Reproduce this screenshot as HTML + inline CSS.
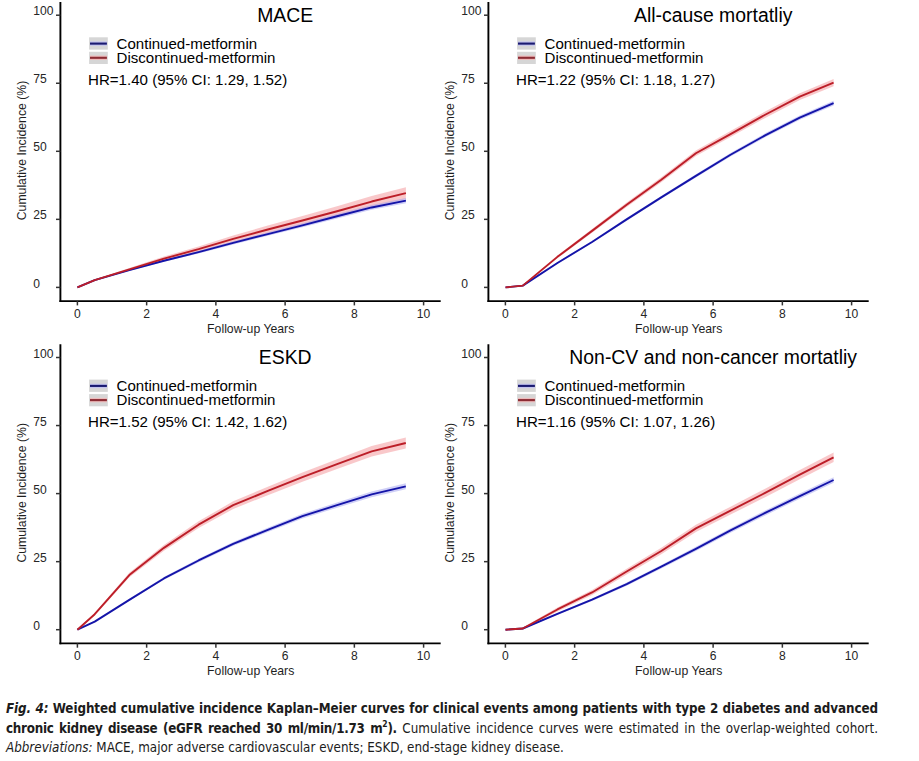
<!DOCTYPE html>
<html><head><meta charset="utf-8"><title>Fig. 4</title>
<style>
html,body{margin:0;padding:0;background:#fff;}
body{width:919px;height:761px;overflow:hidden;position:relative;}
svg{position:absolute;left:0;top:0;}
.cap{position:absolute;left:6px;width:872px;font-family:"DejaVu Sans Condensed","DejaVu Sans","Liberation Sans",sans-serif;font-stretch:condensed;font-size:13.3px;line-height:16px;color:#1c1c1c;text-align:justify;text-align-last:justify;white-space:normal;}
.cap sup{font-size:8.5px;line-height:0;vertical-align:0;position:relative;top:-6px;}
</style></head><body>
<svg width="919" height="761" viewBox="0 0 919 761" font-family="Liberation Sans, Arial, sans-serif">
<g>
<path d="M77.4,287.4 L94.71,279.49 L129.33,268.07 L163.95,256.56 L198.57,246.5 L233.19,235.62 L267.81,225.6 L302.43,216.1 L337.05,206.26 L371.67,196.05 L405.9,187.2 L405.9,199.2 L371.67,207.04 L337.05,216.2 L302.43,224.97 L267.81,233.35 L233.19,242.22 L198.57,251.91 L163.95,260.69 L129.33,270.82 L94.71,280.62 L77.4,287.4Z" fill="#f7b0b4" fill-opacity="0.7"/>
<path d="M77.4,287.4 L94.71,279.74 L129.33,269.34 L163.95,259.7 L198.57,250.87 L233.19,241.35 L267.81,232.29 L302.43,223.37 L337.05,214.01 L371.67,205.04 L405.9,198 L405.9,203.2 L371.67,209.85 L337.05,218.42 L302.43,227.36 L267.81,235.84 L233.19,244.43 L198.57,253.46 L163.95,261.75 L129.33,270.77 L94.71,280.4 L77.4,287.4Z" fill="#a0a0f0" fill-opacity="0.5"/>
<path d="M77.4,287.4 L94.71,280.07 L129.33,270.05 L163.95,260.72 L198.57,252.17 L233.19,242.89 L267.81,234.07 L302.43,225.37 L337.05,216.22 L371.67,207.45 L405.9,200.6" fill="none" stroke="#1414a8" stroke-width="1.9" stroke-linejoin="round"/>
<path d="M77.4,287.4 L94.71,280.06 L129.33,269.45 L163.95,258.63 L198.57,249.2 L233.19,238.92 L267.81,229.47 L302.43,220.54 L337.05,211.23 L371.67,201.54 L405.9,193.2" fill="none" stroke="#bc1e28" stroke-width="1.9" stroke-linejoin="round"/>
<line x1="60.4" y1="2" x2="60.4" y2="302" stroke="#000" stroke-width="1.9"/>
<line x1="59.45" y1="301.1" x2="440.7" y2="301.1" stroke="#000" stroke-width="1.8"/>
<line x1="56" y1="287.4" x2="60.4" y2="287.4" stroke="#333" stroke-width="1.5"/>
<text x="33.2" y="287.5" font-size="12.1" fill="#262626">0</text>
<line x1="56" y1="219.35" x2="60.4" y2="219.35" stroke="#333" stroke-width="1.5"/>
<text x="33.2" y="219.45" font-size="12.1" fill="#262626">25</text>
<line x1="56" y1="151.3" x2="60.4" y2="151.3" stroke="#333" stroke-width="1.5"/>
<text x="33.2" y="151.4" font-size="12.1" fill="#262626">50</text>
<line x1="56" y1="83.25" x2="60.4" y2="83.25" stroke="#333" stroke-width="1.5"/>
<text x="33.2" y="83.35" font-size="12.1" fill="#262626">75</text>
<line x1="56" y1="15.2" x2="60.4" y2="15.2" stroke="#333" stroke-width="1.5"/>
<text x="33.2" y="15.3" font-size="12.1" fill="#262626">100</text>
<line x1="77.4" y1="301.1" x2="77.4" y2="305.4" stroke="#333" stroke-width="1.5"/>
<text x="77.4" y="317.5" font-size="12.1" fill="#262626" text-anchor="middle">0</text>
<line x1="146.64" y1="301.1" x2="146.64" y2="305.4" stroke="#333" stroke-width="1.5"/>
<text x="146.64" y="317.5" font-size="12.1" fill="#262626" text-anchor="middle">2</text>
<line x1="215.88" y1="301.1" x2="215.88" y2="305.4" stroke="#333" stroke-width="1.5"/>
<text x="215.88" y="317.5" font-size="12.1" fill="#262626" text-anchor="middle">4</text>
<line x1="285.12" y1="301.1" x2="285.12" y2="305.4" stroke="#333" stroke-width="1.5"/>
<text x="285.12" y="317.5" font-size="12.1" fill="#262626" text-anchor="middle">6</text>
<line x1="354.36" y1="301.1" x2="354.36" y2="305.4" stroke="#333" stroke-width="1.5"/>
<text x="354.36" y="317.5" font-size="12.1" fill="#262626" text-anchor="middle">8</text>
<line x1="423.6" y1="301.1" x2="423.6" y2="305.4" stroke="#333" stroke-width="1.5"/>
<text x="423.6" y="317.5" font-size="12.1" fill="#262626" text-anchor="middle">10</text>
<text x="250.7" y="332.6" font-size="12.25" fill="#1e1e1e" text-anchor="middle">Follow-up Years</text>
<text transform="translate(25.8,150.5) rotate(-90)" font-size="12.25" fill="#1e1e1e" text-anchor="middle">Cumulative Incidence (%)</text>
<text x="285.2" y="21.8" font-size="19.4" fill="#000" text-anchor="middle">MACE</text>
<rect x="89.1" y="37.3" width="18.7" height="12.3" fill="#d6d6d6"/>
<rect x="89.1" y="51.8" width="18.7" height="12.2" fill="#d6d6d6"/>
<line x1="90" y1="43.6" x2="106.9" y2="43.6" stroke="#c4c4ee" stroke-width="4.4"/>
<line x1="90" y1="57.8" x2="106.9" y2="57.8" stroke="#eebcbc" stroke-width="4.4"/>
<line x1="90" y1="43.6" x2="106.9" y2="43.6" stroke="#1a1a70" stroke-width="2.1"/>
<line x1="90" y1="57.8" x2="106.9" y2="57.8" stroke="#8c2c34" stroke-width="2.1"/>
<text x="116.6" y="48.6" font-size="15.05" fill="#000">Continued-metformin</text>
<text x="116.6" y="62.8" font-size="15.05" fill="#000">Discontinued-metformin</text>
<text x="88" y="84.6" font-size="15.1" fill="#000">HR=1.40 (95% CI: 1.29, 1.52)</text>
</g>
<g>
<path d="M505.5,287.4 L522.81,284.79 L557.43,255.43 L592.05,229.04 L626.67,202.56 L661.29,177.28 L695.91,150.48 L730.53,131.11 L765.15,111.58 L799.77,93.2 L833.6,79 L833.6,86.2 L799.77,100.02 L765.15,117.99 L730.53,137.07 L695.91,155.96 L661.29,182.24 L626.67,206.93 L592.05,232.73 L557.43,258.29 L522.81,286.45 L505.5,287.4Z" fill="#f7b0b4" fill-opacity="0.7"/>
<path d="M505.5,287.4 L522.81,285.23 L557.43,262.19 L592.05,240.99 L626.67,218.12 L661.29,195.93 L695.91,174.18 L730.53,152.94 L765.15,133.37 L799.77,115.49 L833.6,100.8 L833.6,105.4 L799.77,119.8 L765.15,137.37 L730.53,156.61 L695.91,177.5 L661.29,198.87 L626.67,220.65 L592.05,243.06 L557.43,263.71 L522.81,286.01 L505.5,287.4Z" fill="#a0a0f0" fill-opacity="0.5"/>
<path d="M505.5,287.4 L522.81,285.62 L557.43,262.95 L592.05,242.03 L626.67,219.38 L661.29,197.4 L695.91,175.84 L730.53,154.77 L765.15,135.37 L799.77,117.64 L833.6,103.1" fill="none" stroke="#1414a8" stroke-width="1.9" stroke-linejoin="round"/>
<path d="M505.5,287.4 L522.81,285.62 L557.43,256.86 L592.05,230.88 L626.67,204.75 L661.29,179.76 L695.91,153.22 L730.53,134.09 L765.15,114.78 L799.77,96.61 L833.6,82.6" fill="none" stroke="#bc1e28" stroke-width="1.9" stroke-linejoin="round"/>
<line x1="488.4" y1="2" x2="488.4" y2="302" stroke="#000" stroke-width="1.9"/>
<line x1="487.45" y1="301.1" x2="868.7" y2="301.1" stroke="#000" stroke-width="1.8"/>
<line x1="484" y1="287.4" x2="488.4" y2="287.4" stroke="#333" stroke-width="1.5"/>
<text x="461.2" y="287.5" font-size="12.1" fill="#262626">0</text>
<line x1="484" y1="219.35" x2="488.4" y2="219.35" stroke="#333" stroke-width="1.5"/>
<text x="461.2" y="219.45" font-size="12.1" fill="#262626">25</text>
<line x1="484" y1="151.3" x2="488.4" y2="151.3" stroke="#333" stroke-width="1.5"/>
<text x="461.2" y="151.4" font-size="12.1" fill="#262626">50</text>
<line x1="484" y1="83.25" x2="488.4" y2="83.25" stroke="#333" stroke-width="1.5"/>
<text x="461.2" y="83.35" font-size="12.1" fill="#262626">75</text>
<line x1="484" y1="15.2" x2="488.4" y2="15.2" stroke="#333" stroke-width="1.5"/>
<text x="461.2" y="15.3" font-size="12.1" fill="#262626">100</text>
<line x1="505.4" y1="301.1" x2="505.4" y2="305.4" stroke="#333" stroke-width="1.5"/>
<text x="505.4" y="317.5" font-size="12.1" fill="#262626" text-anchor="middle">0</text>
<line x1="574.64" y1="301.1" x2="574.64" y2="305.4" stroke="#333" stroke-width="1.5"/>
<text x="574.64" y="317.5" font-size="12.1" fill="#262626" text-anchor="middle">2</text>
<line x1="643.88" y1="301.1" x2="643.88" y2="305.4" stroke="#333" stroke-width="1.5"/>
<text x="643.88" y="317.5" font-size="12.1" fill="#262626" text-anchor="middle">4</text>
<line x1="713.12" y1="301.1" x2="713.12" y2="305.4" stroke="#333" stroke-width="1.5"/>
<text x="713.12" y="317.5" font-size="12.1" fill="#262626" text-anchor="middle">6</text>
<line x1="782.36" y1="301.1" x2="782.36" y2="305.4" stroke="#333" stroke-width="1.5"/>
<text x="782.36" y="317.5" font-size="12.1" fill="#262626" text-anchor="middle">8</text>
<line x1="851.6" y1="301.1" x2="851.6" y2="305.4" stroke="#333" stroke-width="1.5"/>
<text x="851.6" y="317.5" font-size="12.1" fill="#262626" text-anchor="middle">10</text>
<text x="678.7" y="332.6" font-size="12.25" fill="#1e1e1e" text-anchor="middle">Follow-up Years</text>
<text transform="translate(453.8,150.5) rotate(-90)" font-size="12.25" fill="#1e1e1e" text-anchor="middle">Cumulative Incidence (%)</text>
<text x="713.2" y="21.8" font-size="19.4" fill="#000" text-anchor="middle">All-cause mortatliy</text>
<rect x="517.1" y="37.3" width="18.7" height="12.3" fill="#d6d6d6"/>
<rect x="517.1" y="51.8" width="18.7" height="12.2" fill="#d6d6d6"/>
<line x1="518" y1="43.6" x2="534.9" y2="43.6" stroke="#c4c4ee" stroke-width="4.4"/>
<line x1="518" y1="57.8" x2="534.9" y2="57.8" stroke="#eebcbc" stroke-width="4.4"/>
<line x1="518" y1="43.6" x2="534.9" y2="43.6" stroke="#1a1a70" stroke-width="2.1"/>
<line x1="518" y1="57.8" x2="534.9" y2="57.8" stroke="#8c2c34" stroke-width="2.1"/>
<text x="544.6" y="48.6" font-size="15.05" fill="#000">Continued-metformin</text>
<text x="544.6" y="62.8" font-size="15.05" fill="#000">Discontinued-metformin</text>
<text x="516" y="84.6" font-size="15.1" fill="#000">HR=1.22 (95% CI: 1.18, 1.27)</text>
</g>
<g>
<path d="M77.4,629.7 L94.71,612.91 L129.33,572.84 L163.95,545.03 L198.57,521.35 L233.19,501.35 L267.81,486.79 L302.43,472.56 L337.05,459.33 L371.67,446.12 L405.8,437.5 L405.8,448.5 L371.67,456.53 L337.05,469.11 L302.43,481.66 L267.81,495.16 L233.19,508.93 L198.57,528.03 L163.95,550.68 L129.33,577.22 L94.71,615.44 L77.4,629.7Z" fill="#f7b0b4" fill-opacity="0.7"/>
<path d="M77.4,629.7 L94.71,621.11 L129.33,598.87 L163.95,577.09 L198.57,558.83 L233.19,541.98 L267.81,527.67 L302.43,513.82 L337.05,502.52 L371.67,491.58 L405.8,483.3 L405.8,489.3 L371.67,497.2 L337.05,507.73 L302.43,518.6 L267.81,532 L233.19,545.82 L198.57,562.13 L163.95,579.79 L129.33,600.85 L94.71,622.14 L77.4,629.7Z" fill="#a0a0f0" fill-opacity="0.5"/>
<path d="M77.4,629.7 L94.71,621.62 L129.33,599.86 L163.95,578.44 L198.57,560.48 L233.19,543.9 L267.81,529.84 L302.43,516.21 L337.05,505.13 L371.67,494.39 L405.8,486.3" fill="none" stroke="#1414a8" stroke-width="1.9" stroke-linejoin="round"/>
<path d="M77.4,629.7 L94.71,614.18 L129.33,575.03 L163.95,547.86 L198.57,524.69 L233.19,505.14 L267.81,490.97 L302.43,477.11 L337.05,464.22 L371.67,451.33 L405.8,443" fill="none" stroke="#bc1e28" stroke-width="1.9" stroke-linejoin="round"/>
<line x1="60.4" y1="344.3" x2="60.4" y2="644.3" stroke="#000" stroke-width="1.9"/>
<line x1="59.45" y1="643.4" x2="440.7" y2="643.4" stroke="#000" stroke-width="1.8"/>
<line x1="56" y1="629.7" x2="60.4" y2="629.7" stroke="#333" stroke-width="1.5"/>
<text x="33.2" y="629.8" font-size="12.1" fill="#262626">0</text>
<line x1="56" y1="561.65" x2="60.4" y2="561.65" stroke="#333" stroke-width="1.5"/>
<text x="33.2" y="561.75" font-size="12.1" fill="#262626">25</text>
<line x1="56" y1="493.6" x2="60.4" y2="493.6" stroke="#333" stroke-width="1.5"/>
<text x="33.2" y="493.7" font-size="12.1" fill="#262626">50</text>
<line x1="56" y1="425.55" x2="60.4" y2="425.55" stroke="#333" stroke-width="1.5"/>
<text x="33.2" y="425.65" font-size="12.1" fill="#262626">75</text>
<line x1="56" y1="357.5" x2="60.4" y2="357.5" stroke="#333" stroke-width="1.5"/>
<text x="33.2" y="357.6" font-size="12.1" fill="#262626">100</text>
<line x1="77.4" y1="643.4" x2="77.4" y2="647.7" stroke="#333" stroke-width="1.5"/>
<text x="77.4" y="659.8" font-size="12.1" fill="#262626" text-anchor="middle">0</text>
<line x1="146.64" y1="643.4" x2="146.64" y2="647.7" stroke="#333" stroke-width="1.5"/>
<text x="146.64" y="659.8" font-size="12.1" fill="#262626" text-anchor="middle">2</text>
<line x1="215.88" y1="643.4" x2="215.88" y2="647.7" stroke="#333" stroke-width="1.5"/>
<text x="215.88" y="659.8" font-size="12.1" fill="#262626" text-anchor="middle">4</text>
<line x1="285.12" y1="643.4" x2="285.12" y2="647.7" stroke="#333" stroke-width="1.5"/>
<text x="285.12" y="659.8" font-size="12.1" fill="#262626" text-anchor="middle">6</text>
<line x1="354.36" y1="643.4" x2="354.36" y2="647.7" stroke="#333" stroke-width="1.5"/>
<text x="354.36" y="659.8" font-size="12.1" fill="#262626" text-anchor="middle">8</text>
<line x1="423.6" y1="643.4" x2="423.6" y2="647.7" stroke="#333" stroke-width="1.5"/>
<text x="423.6" y="659.8" font-size="12.1" fill="#262626" text-anchor="middle">10</text>
<text x="250.7" y="674.9" font-size="12.25" fill="#1e1e1e" text-anchor="middle">Follow-up Years</text>
<text transform="translate(25.8,492.8) rotate(-90)" font-size="12.25" fill="#1e1e1e" text-anchor="middle">Cumulative Incidence (%)</text>
<text x="285.2" y="364.1" font-size="19.4" fill="#000" text-anchor="middle">ESKD</text>
<rect x="89.1" y="379.6" width="18.7" height="12.3" fill="#d6d6d6"/>
<rect x="89.1" y="394.1" width="18.7" height="12.2" fill="#d6d6d6"/>
<line x1="90" y1="385.9" x2="106.9" y2="385.9" stroke="#c4c4ee" stroke-width="4.4"/>
<line x1="90" y1="400.1" x2="106.9" y2="400.1" stroke="#eebcbc" stroke-width="4.4"/>
<line x1="90" y1="385.9" x2="106.9" y2="385.9" stroke="#1a1a70" stroke-width="2.1"/>
<line x1="90" y1="400.1" x2="106.9" y2="400.1" stroke="#8c2c34" stroke-width="2.1"/>
<text x="116.6" y="390.9" font-size="15.05" fill="#000">Continued-metformin</text>
<text x="116.6" y="405.1" font-size="15.05" fill="#000">Discontinued-metformin</text>
<text x="88" y="426.9" font-size="15.1" fill="#000">HR=1.52 (95% CI: 1.42, 1.62)</text>
</g>
<g>
<path d="M505.5,629.7 L522.81,627.39 L557.43,607.56 L592.05,589.98 L626.67,568.64 L661.29,547.67 L695.91,524.73 L730.53,506.63 L765.15,488.67 L799.77,470.09 L833.6,452.5 L833.6,462.1 L799.77,479.18 L765.15,497.21 L730.53,514.58 L695.91,532.04 L661.29,554.29 L626.67,574.47 L592.05,594.91 L557.43,611.38 L522.81,629.6 L505.5,629.7Z" fill="#f7b0b4" fill-opacity="0.7"/>
<path d="M505.5,629.7 L522.81,628.02 L557.43,613.01 L592.05,598.45 L626.67,582.56 L661.29,564.91 L695.91,546.85 L730.53,528.23 L765.15,510.53 L799.77,493.43 L833.6,477.2 L833.6,482.8 L799.77,498.68 L765.15,515.39 L730.53,532.69 L695.91,550.89 L661.29,568.49 L626.67,585.64 L592.05,600.96 L557.43,614.87 L522.81,628.98 L505.5,629.7Z" fill="#a0a0f0" fill-opacity="0.5"/>
<path d="M505.5,629.7 L522.81,628.5 L557.43,613.94 L592.05,599.7 L626.67,584.1 L661.29,566.7 L695.91,548.87 L730.53,530.46 L765.15,512.96 L799.77,496.05 L833.6,480" fill="none" stroke="#1414a8" stroke-width="1.9" stroke-linejoin="round"/>
<path d="M505.5,629.7 L522.81,628.49 L557.43,609.47 L592.05,592.44 L626.67,571.56 L661.29,550.98 L695.91,528.39 L730.53,510.61 L765.15,492.94 L799.77,474.63 L833.6,457.3" fill="none" stroke="#bc1e28" stroke-width="1.9" stroke-linejoin="round"/>
<line x1="488.4" y1="344.3" x2="488.4" y2="644.3" stroke="#000" stroke-width="1.9"/>
<line x1="487.45" y1="643.4" x2="868.7" y2="643.4" stroke="#000" stroke-width="1.8"/>
<line x1="484" y1="629.7" x2="488.4" y2="629.7" stroke="#333" stroke-width="1.5"/>
<text x="461.2" y="629.8" font-size="12.1" fill="#262626">0</text>
<line x1="484" y1="561.65" x2="488.4" y2="561.65" stroke="#333" stroke-width="1.5"/>
<text x="461.2" y="561.75" font-size="12.1" fill="#262626">25</text>
<line x1="484" y1="493.6" x2="488.4" y2="493.6" stroke="#333" stroke-width="1.5"/>
<text x="461.2" y="493.7" font-size="12.1" fill="#262626">50</text>
<line x1="484" y1="425.55" x2="488.4" y2="425.55" stroke="#333" stroke-width="1.5"/>
<text x="461.2" y="425.65" font-size="12.1" fill="#262626">75</text>
<line x1="484" y1="357.5" x2="488.4" y2="357.5" stroke="#333" stroke-width="1.5"/>
<text x="461.2" y="357.6" font-size="12.1" fill="#262626">100</text>
<line x1="505.4" y1="643.4" x2="505.4" y2="647.7" stroke="#333" stroke-width="1.5"/>
<text x="505.4" y="659.8" font-size="12.1" fill="#262626" text-anchor="middle">0</text>
<line x1="574.64" y1="643.4" x2="574.64" y2="647.7" stroke="#333" stroke-width="1.5"/>
<text x="574.64" y="659.8" font-size="12.1" fill="#262626" text-anchor="middle">2</text>
<line x1="643.88" y1="643.4" x2="643.88" y2="647.7" stroke="#333" stroke-width="1.5"/>
<text x="643.88" y="659.8" font-size="12.1" fill="#262626" text-anchor="middle">4</text>
<line x1="713.12" y1="643.4" x2="713.12" y2="647.7" stroke="#333" stroke-width="1.5"/>
<text x="713.12" y="659.8" font-size="12.1" fill="#262626" text-anchor="middle">6</text>
<line x1="782.36" y1="643.4" x2="782.36" y2="647.7" stroke="#333" stroke-width="1.5"/>
<text x="782.36" y="659.8" font-size="12.1" fill="#262626" text-anchor="middle">8</text>
<line x1="851.6" y1="643.4" x2="851.6" y2="647.7" stroke="#333" stroke-width="1.5"/>
<text x="851.6" y="659.8" font-size="12.1" fill="#262626" text-anchor="middle">10</text>
<text x="678.7" y="674.9" font-size="12.25" fill="#1e1e1e" text-anchor="middle">Follow-up Years</text>
<text transform="translate(453.8,492.8) rotate(-90)" font-size="12.25" fill="#1e1e1e" text-anchor="middle">Cumulative Incidence (%)</text>
<text x="713.2" y="364.1" font-size="19.4" fill="#000" text-anchor="middle">Non-CV and non-cancer mortatliy</text>
<rect x="517.1" y="379.6" width="18.7" height="12.3" fill="#d6d6d6"/>
<rect x="517.1" y="394.1" width="18.7" height="12.2" fill="#d6d6d6"/>
<line x1="518" y1="385.9" x2="534.9" y2="385.9" stroke="#c4c4ee" stroke-width="4.4"/>
<line x1="518" y1="400.1" x2="534.9" y2="400.1" stroke="#eebcbc" stroke-width="4.4"/>
<line x1="518" y1="385.9" x2="534.9" y2="385.9" stroke="#1a1a70" stroke-width="2.1"/>
<line x1="518" y1="400.1" x2="534.9" y2="400.1" stroke="#8c2c34" stroke-width="2.1"/>
<text x="544.6" y="390.9" font-size="15.05" fill="#000">Continued-metformin</text>
<text x="544.6" y="405.1" font-size="15.05" fill="#000">Discontinued-metformin</text>
<text x="516" y="426.9" font-size="15.1" fill="#000">HR=1.16 (95% CI: 1.07, 1.26)</text>
</g>
</svg>
<div class="cap" style="top:700.8px;font-weight:bold;letter-spacing:-0.08px;"><i>Fig. 4:</i> Weighted cumulative incidence Kaplan&#8211;Meier curves for clinical events among patients with type 2 diabetes and advanced</div>
<div class="cap" style="top:720.7px;"><b style="letter-spacing:-0.27px">chronic kidney disease (eGFR reached 30 ml/min/1.73 m<sup>2</sup>).</b> Cumulative incidence curves were estimated in the overlap-weighted cohort.</div>
<div class="cap" style="top:739.6px;text-align:left;text-align-last:left;"><i>Abbreviations:</i> MACE, major adverse cardiovascular events; ESKD, end-stage kidney disease.</div>
</body></html>
